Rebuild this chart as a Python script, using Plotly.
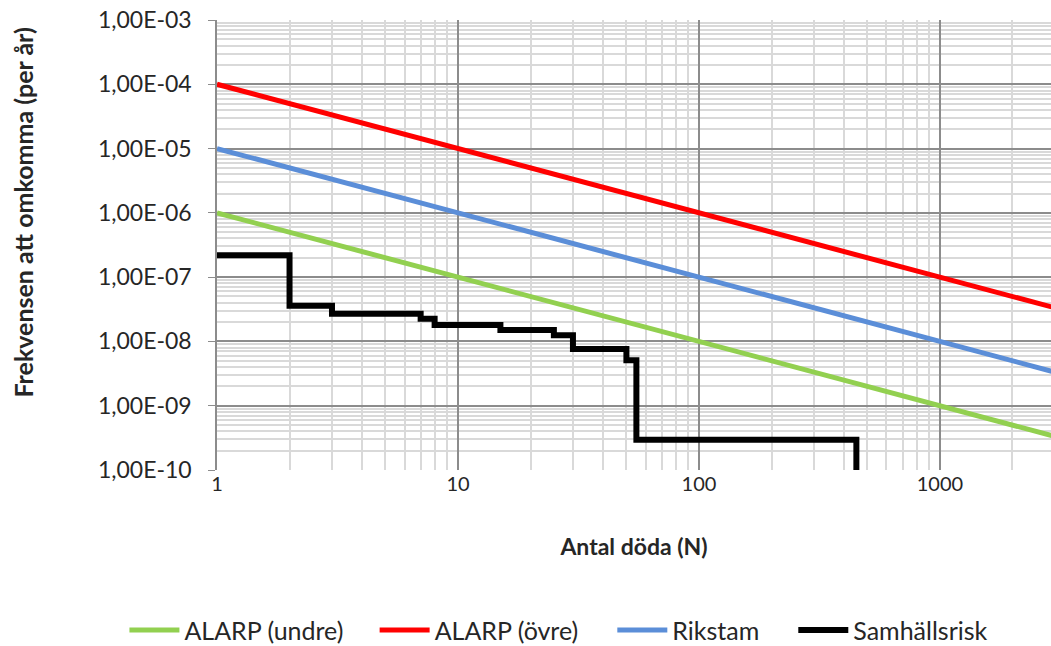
import numpy as np
import plotly.graph_objects as go

# Number of fatalities (N) used for the criterion lines
n_criteria = [1, 10, 100, 1000, 3000]
# Criterion lines F(N) = C / N
alarp_lower = [1e-6 / n for n in n_criteria]
alarp_upper = [1e-4 / n for n in n_criteria]
rikstam = [1e-5 / n for n in n_criteria]

# Societal risk F/N step curve
societal_n = [1, 2, 3, 7, 8, 15, 25, 30, 50, 55, 450]
societal_f = [2.2e-7, 3.6e-8, 2.7e-8, 2.25e-8, 1.8e-8, 1.5e-8, 1.25e-8,
              7.6e-9, 5.1e-9, 2.95e-10, 1e-10]

y_tickvals = [1e-3, 1e-4, 1e-5, 1e-6, 1e-7, 1e-8, 1e-9, 1e-10]
y_ticktext = ["1,00E-03", "1,00E-04", "1,00E-05", "1,00E-06",
              "1,00E-07", "1,00E-08", "1,00E-09", "1,00E-10"]
x_tickvals = [1, 10, 100, 1000]
x_ticktext = ["1", "10", "100", "1000"]

FONT = "Lato"
TEXT = "#262626"

series = [
    ("ALARP (undre)", n_criteria, alarp_lower, "#92d050", 5, "linear", "legend"),
    ("ALARP (övre)", n_criteria, alarp_upper, "#ff0000", 5, "linear", "legend2"),
    ("Rikstam", n_criteria, rikstam, "#5b8ed8", 5, "linear", "legend3"),
    ("Samhällsrisk", societal_n, societal_f, "#000000", 6, "hv", "legend4"),
]

fig = go.Figure()
for name, xs, ys, color, width, shape, leg in series:
    fig.add_trace(go.Scatter(x=xs, y=ys, mode="lines", name=name,
                             legend=leg,
                             line=dict(color=color, width=width, shape=shape)))

# one legend box per entry so the entries can be spaced freely
legend_x = {"legend": -0.111, "legend2": 0.189, "legend3": 0.474, "legend4": 0.691}
legend_common = dict(orientation="h", xanchor="left", y=-0.356, yanchor="middle",
                     font=dict(family=FONT, size=25, color=TEXT),
                     itemwidth=50, bgcolor="rgba(0,0,0,0)")

fig.update_layout(
    width=1051, height=646,
    margin=dict(l=217, r=0, t=20, b=176, autoexpand=False),
    paper_bgcolor="white", plot_bgcolor="white",
    font=dict(family=FONT, size=21, color=TEXT),
    showlegend=True,
    **{k: dict(x=v, **legend_common) for k, v in legend_x.items()},
)

# vertical axis title, placed as a rotated annotation
fig.add_annotation(
    text="<b>Frekvensen att omkomma (per år)</b>",
    xref="paper", yref="paper", x=-0.232, y=0.571,
    xanchor="center", yanchor="middle", textangle=-90, showarrow=False,
    font=dict(family=FONT, size=25, color=TEXT),
)

fig.update_xaxes(
    type="log", range=[0, np.log10(2890)],
    tickvals=x_tickvals, ticktext=x_ticktext, automargin=False,
    showgrid=True, gridcolor="#8c8c8c", gridwidth=1.5,
    minor=dict(showgrid=True, gridcolor="#d9d9d9", gridwidth=1.5, dtick="D1"),
    showline=False, zeroline=False, ticks="",
    tickfont=dict(family=FONT, size=20, color=TEXT),
    title=dict(text="<b>Antal döda (N)</b>", standoff=44,
               font=dict(family=FONT, size=23, color=TEXT)),
)
fig.update_yaxes(
    type="log", range=[-10, -3],
    tickvals=y_tickvals, ticktext=y_ticktext, automargin=False,
    showgrid=True, gridcolor="#8c8c8c", gridwidth=1.5,
    minor=dict(showgrid=True, gridcolor="#d9d9d9", gridwidth=1.5, dtick="D1"),
    showline=True, linecolor="#8c8c8c", linewidth=1.5,
    zeroline=False, ticks="outside", ticklen=7, tickcolor="#8c8c8c",
    ticklabelstandoff=12,
    tickfont=dict(family=FONT, size=23, color=TEXT),
)

fig.write_html("out.html")
